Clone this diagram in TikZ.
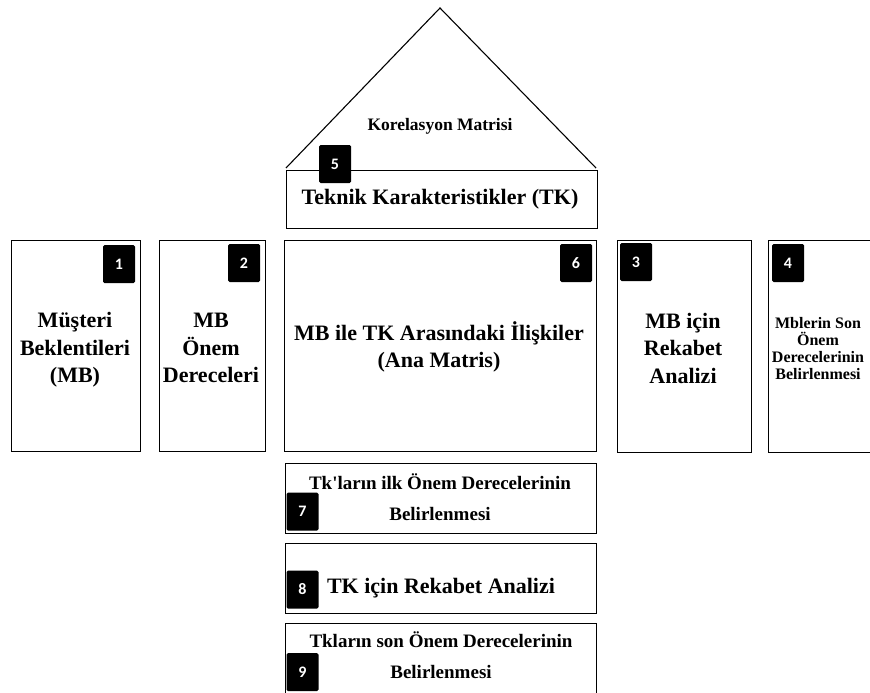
\documentclass[tikz,border=0pt]{standalone}
\usepackage{fontspec}
\setmainfont{Liberation Serif}
\newfontfamily\badgefont{Carlito}
\begin{document}
\begin{tikzpicture}[x=1pt,y=-1pt,
  box/.style={draw=black, line width=1.1pt, inner sep=0pt, anchor=north west},
  roofline/.style={draw=black, line width=1.1pt, line join=miter},
  badge/.style={fill=black, rounded corners=1.5pt, minimum width=32pt, minimum height=38pt, inner sep=0pt, text=white, font=\badgefont\bfseries\fontsize{16}{16}\selectfont},
  big/.style={font=\bfseries\fontsize{22}{27.5}\selectfont, align=center, inner sep=0pt},
  mid/.style={font=\bfseries\fontsize{19}{31}\selectfont, align=center, inner sep=0pt},
  small/.style={font=\bfseries\fontsize{16}{17}\selectfont, align=center, inner sep=0pt},
  roofText/.style={font=\bfseries\fontsize{17.5}{20}\selectfont, inner sep=0pt}]
\useasboundingbox (0,0) rectangle (870,693);
\clip (0,0) rectangle (870,693);
% roof (correlation matrix)
\coordinate (apex) at (440,8);
\coordinate (roofL) at (286,168);
\coordinate (roofR) at (596,168);
\draw[roofline] (roofL) -- (apex) -- (roofR);
\node[roofText] (kor) at (440,126) {Korelasyon Matrisi};
% boxes
\node[box, minimum width=311pt, minimum height=58pt] (tk) at (286,170) {};
\node[box, minimum width=129pt, minimum height=211pt] (b1) at (11,240) {};
\node[box, minimum width=106pt, minimum height=211pt] (b2) at (159,240) {};
\node[box, minimum width=312pt, minimum height=211pt] (bm) at (284,240) {};
\node[box, minimum width=134pt, minimum height=212pt] (b3) at (617,240) {};
\node[box, minimum width=120pt, minimum height=212pt] (b4) at (768,240) {};
\node[box, minimum width=311pt, minimum height=70pt] (b7) at (285,463) {};
\node[box, minimum width=311pt, minimum height=70pt] (b8) at (285,543) {};
\node[box, minimum width=311pt, minimum height=80pt] (b9) at (285,623) {};
% texts
\node[big] (ttk) at (440,199) {Teknik Karakteristikler (TK)};
\node[big] (t1) at (75,350) {Müşteri\\Beklentileri\\(MB)};
\node[big] (t2) at (211,348) {MB\\Önem\\Dereceleri};
\node[big] (tm) at (439,347) {MB ile TK Arasındaki İlişkiler\\(Ana Matris)};
\node[big] (t3) at (683,348) {MB için\\Rekabet\\Analizi};
\node[small] (t4) at (818,349) {Mblerin Son\\Önem\\Derecelerinin\\Belirlenmesi};
\node[mid] (t7) at (440,497) {Tk\textquotesingle ların ilk Önem Derecelerinin\\Belirlenmesi};
\node[big] (t8) at (441,588) {TK için Rekabet Analizi};
\node[mid] (t9) at (441,655) {Tkların son Önem Derecelerinin\\Belirlenmesi};
% badges
\node[badge] (n1) at (119,264) {1};
\node[badge] (n2) at (244,263) {2};
\node[badge] (n6) at (576,263) {6};
\node[badge] (n3) at (636,262) {3};
\node[badge] (n4) at (788,263) {4};
\node[badge] (n5) at (335,164) {5};
\node[badge] (n7) at (302.5,511.5) {7};
\node[badge] (n8) at (302.5,589.5) {8};
\node[badge] (n9) at (302.5,672) {9};
\end{tikzpicture}
\end{document}
